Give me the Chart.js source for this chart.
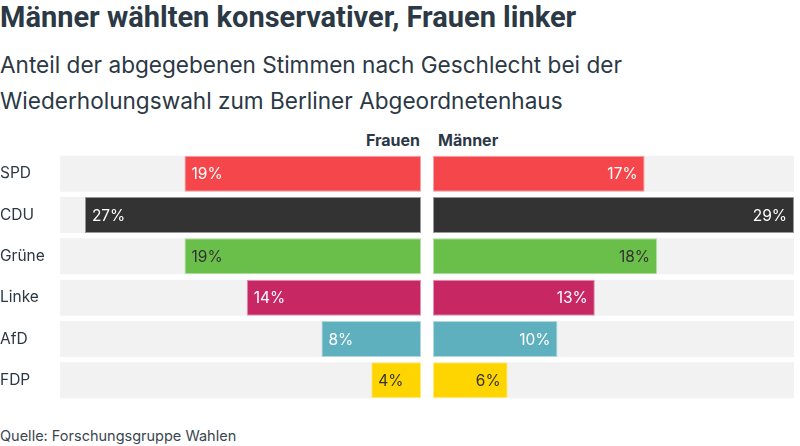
<!DOCTYPE html>
<html><head><meta charset="utf-8">
<script src="https://cdn.jsdelivr.net/npm/chart.js@4/dist/chart.umd.min.js"></script>
<style>
html,body{margin:0;padding:0;background:#fff;width:800px;height:446px;overflow:hidden;font-family:Inter,sans-serif;color:#2b3845;}
#title{position:absolute;left:0;top:-1px;font:700 29px "Roboto",sans-serif;line-height:36px;letter-spacing:0px;color:#2b3845;white-space:nowrap;}
#sub{position:absolute;left:0;top:46.5px;font:400 22.6px Inter,sans-serif;line-height:36px;color:#2b3845;white-space:nowrap;}
.hd{position:absolute;top:130px;font:700 16px Inter,sans-serif;color:#2b3845;}
#src{position:absolute;left:0;top:427px;font:400 14.5px Inter,sans-serif;color:#3b4651;}
.cv{position:absolute;}
</style></head><body>
<div id="title">Männer wählten konservativer, Frauen linker</div>
<div id="sub">Anteil der abgegebenen Stimmen nach Geschlecht bei der<br>Wiederholungswahl zum Berliner Abgeordnetenhaus</div>
<div class="hd" style="right:380px;">Frauen</div>
<div class="hd" style="left:438px;">Männer</div>
<div class="cv" style="left:0;top:153px;width:421px;height:248px;"><canvas id="cL"></canvas></div>
<div class="cv" style="left:433px;top:153px;width:361px;height:248px;"><canvas id="cR"></canvas></div>
<div id="src">Quelle: Forschungsgruppe Wahlen</div>
<script>
const parties = ["SPD","CDU","Grüne","Linke","AfD","FDP"];
const frauen = [19,27,19,14,8,4];
const maenner = [17,29,18,13,10,6];
const axisMax = 29;
const colors = ["#f5474b","#333333","#6abf4b","#c72763","#5fb0bf","#ffd500"];
const borderColors = ["#f8a0a2","#999999","#b5dfa5","#e393b1","#afd8df","#ffea80"];
const labelColors = ["#ffffff","#ffffff","#333333","#ffffff","#ffffff","#333333"];
const bgValues = parties.map(() => axisMax);

const labelPlugin = {
  id: 'valLabels',
  afterDatasetsDraw(chart, args, opts) {
    const meta = chart.getDatasetMeta(1);
    const ctx = chart.ctx;
    ctx.save();
    ctx.font = '400 15.5px Inter, sans-serif';
    ctx.textBaseline = 'middle';
    meta.data.forEach((bar, i) => {
      const v = chart.data.datasets[1].data[i];
      ctx.fillStyle = labelColors[i];
      if (opts.side === 'left') {
        ctx.textAlign = 'left';
        ctx.fillText(v + '%', bar.x + 7, bar.y + 1);
      } else {
        ctx.textAlign = 'right';
        ctx.fillText(v + '%', bar.x - 7, bar.y + 1);
      }
    });
    ctx.restore();
  }
};

function makeChart(id, values, side) {
  return new Chart(document.getElementById(id), {
    type: 'bar',
    data: {
      labels: parties,
      datasets: [
        { data: bgValues, backgroundColor: '#f2f2f2', borderWidth: 0, grouped: false, order: 2,
          barPercentage: 0.87, categoryPercentage: 1 },
        { data: values, backgroundColor: colors, borderColor: borderColors, borderWidth: 1, borderSkipped: false,
          grouped: false, order: 1, barPercentage: 0.87, categoryPercentage: 1 }
      ]
    },
    options: {
      indexAxis: 'y',
      responsive: true,
      maintainAspectRatio: false,
      animation: false,
      events: [],
      layout: { padding: 0 },
      plugins: { legend: { display: false }, tooltip: { enabled: false }, valLabels: { side } },
      scales: {
        x: { display: false, min: 0, max: axisMax, reverse: side === 'left' },
        y: {
          display: side === 'left',
          grid: { display: false, drawTicks: false },
          border: { display: false },
          ticks: { color: '#2b3845', font: { family: 'Inter', size: 15.5 }, crossAlign: 'far', padding: 0 },
          afterFit: s => {
            if (side === 'left') { s.width = 60; }
            s.paddingTop = 0; s.paddingBottom = 0;
          }
        }
      }
    },
    plugins: [labelPlugin]
  });
}
makeChart('cL', frauen, 'left');
makeChart('cR', maenner, 'right');
</script>
</body></html>
